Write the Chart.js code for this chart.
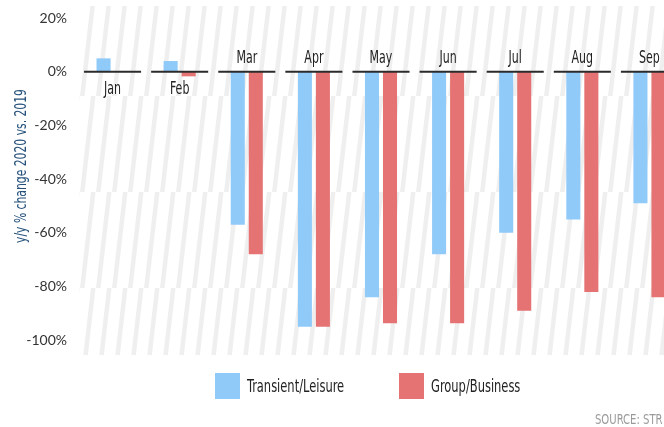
<!DOCTYPE html>
<html>
<head>
<meta charset="utf-8">
<script src="https://cdn.jsdelivr.net/npm/chart.js@4.4.0/dist/chart.umd.min.js"></script>
<style>
  html, body { margin: 0; padding: 0; background: #fff; overflow: hidden; }
  #wrap { position: relative; width: 664px; height: 427px; overflow: hidden; }
  #box { position: absolute; left: 0; top: 0; width: 690px; height: 427px; }
  .item { position: absolute; top: 373px; display: flex; align-items: center;
    font-family: "DejaVu Sans Condensed", "DejaVu Sans", sans-serif; font-size: 17px; color: #222; white-space: nowrap; }
  .item .sw { width: 25px; height: 26px; margin-right: 7px; }
  .item span { display: inline-block; transform: scaleX(0.75); transform-origin: left center; }
  .source { position: absolute; right: 1px; top: 411px; transform: scaleX(0.8); transform-origin: right center;
    font-family: "DejaVu Sans Condensed", "DejaVu Sans", sans-serif; font-size: 14px; color: #9a9a9a; }
</style>
</head>
<body>
<div id="wrap">
  <div id="box"><canvas id="chart"></canvas></div>
  <div id="legend"></div>
  <div class="source">SOURCE: STR</div>
</div>
<script>
const months = ['Jan', 'Feb', 'Mar', 'Apr', 'May', 'Jun', 'Jul', 'Aug', 'Sep'];
const transientLeisure = [5, 4, -57, -95, -84, -68, -60, -55, -49];
const groupBusiness = [0, -1.7, -68, -95, -93.7, -93.7, -89, -82, -84];
const seriesNames = ['Transient/Leisure', 'Group/Business'];
const seriesColors = ['#90CAF9', '#E57373'];
const yTicks = [-100, -80, -60, -40, -20, 0, 20];
const yTitle = 'y/y % change 2020 vs. 2019';

const condensed = '"DejaVu Sans Condensed", "DejaVu Sans", sans-serif';

// legend (html)
const legendEl = document.getElementById('legend');
const legendLeft = [215, 399];
seriesNames.forEach((name, i) => {
  const item = document.createElement('div');
  item.className = 'item';
  item.style.left = legendLeft[i] + 'px';
  item.innerHTML = '<div class="sw" style="background:' + seriesColors[i] + '"></div><span>' + name + '</span>';
  legendEl.appendChild(item);
});

// diagonal stripe pattern for the plot background
const makeStripes = () => {
  const c = document.createElement('canvas');
  c.width = 16;
  c.height = 96;
  const g = c.getContext('2d');
  g.fillStyle = '#efefef';
  g.beginPath();
  g.moveTo(0, 96);
  g.lineTo(4.5, 96);
  g.lineTo(15.5, 0);
  g.lineTo(11, 0);
  g.closePath();
  g.fill();
  return g.createPattern(c, 'repeat');
};

// squeezed text, the original uses a condensed face
const narrowText = (ctx, text, x, y, sx) => {
  ctx.save();
  ctx.translate(x, y);
  ctx.scale(sx, 1);
  ctx.fillText(text, 0, 0);
  ctx.restore();
};

const backdrop = {
  id: 'backdrop',
  beforeDatasetsDraw(chart) {
    const { ctx, chartArea } = chart;
    ctx.save();
    ctx.fillStyle = makeStripes();
    ctx.fillRect(chartArea.left, chartArea.top, chartArea.right - chartArea.left, chartArea.bottom - chartArea.top);
    ctx.restore();
  },
  afterDatasetsDraw(chart) {
    const { ctx, scales } = chart;
    const x = scales.x, y = scales.y;
    const y0 = y.getPixelForValue(0);
    const half = x.width / months.length * 0.425;
    ctx.save();
    ctx.strokeStyle = '#2b2b2b';
    ctx.lineWidth = 2;
    ctx.font = '17px ' + condensed;
    ctx.fillStyle = '#222';
    ctx.textAlign = 'center';
    months.forEach((m, i) => {
      const cx = x.getPixelForValue(i);
      ctx.beginPath();
      ctx.moveTo(cx - half, y0);
      ctx.lineTo(cx + half, y0);
      ctx.stroke();
      const low = Math.min(transientLeisure[i], groupBusiness[i]);
      if (low > -5) {
        ctx.textBaseline = 'top';
        narrowText(ctx, m, cx, y0 + 9, 0.72);
      } else {
        ctx.textBaseline = 'alphabetic';
        narrowText(ctx, m, cx, y0 - 9, 0.72);
      }
    });

    // y axis title
    ctx.font = '16px ' + condensed;
    ctx.fillStyle = '#24507a';
    ctx.textBaseline = 'middle';
    ctx.translate(22, 166);
    ctx.rotate(-Math.PI / 2);
    ctx.scale(0.75, 1);
    ctx.fillText(yTitle, 0, 0);
    ctx.restore();
  }
};

new Chart(document.getElementById('chart'), {
  type: 'bar',
  data: {
    labels: months,
    datasets: [
      { label: seriesNames[0], data: transientLeisure, backgroundColor: seriesColors[0] },
      { label: seriesNames[1], data: groupBusiness, backgroundColor: seriesColors[1] },
    ],
  },
  options: {
    responsive: true,
    maintainAspectRatio: false,
    animation: false,
    categoryPercentage: 0.537,
    barPercentage: 0.78,
    layout: { padding: { top: 6, bottom: 72, right: 7, left: 0 } },
    plugins: {
      legend: { display: false },
      tooltip: { enabled: false },
    },
    scales: {
      x: { display: false },
      y: {
        min: -105.5,
        max: 24.5,
        afterBuildTicks: (scale) => {
          scale.ticks = yTicks.map((v) => ({ value: v }));
        },
        afterFit: (scale) => {
          scale.width = 79;
          scale.paddingTop = 0;
          scale.paddingBottom = 0;
        },
        grid: { display: false },
        border: { display: false },
        ticks: {
          padding: 4,
          color: '#333',
          font: { family: 'Lato', size: 14 },
          callback: (v) => v + '%',
        },
      },
    },
  },
  plugins: [backdrop],
});
</script>
</body>
</html>
